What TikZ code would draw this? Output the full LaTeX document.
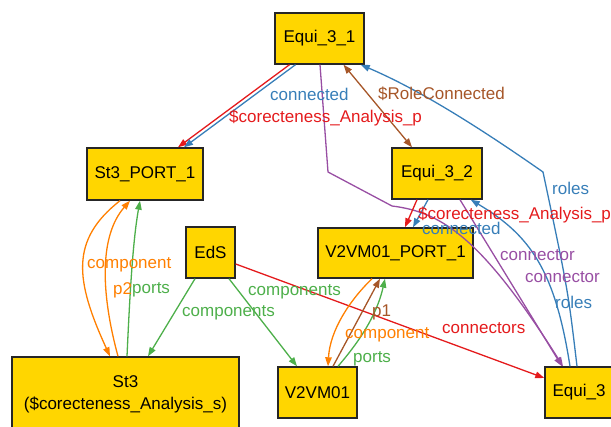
\documentclass[tikz,border=0pt]{standalone}
\usepackage{fontspec}
\setmainfont{Liberation Sans}
\usetikzlibrary{arrows.meta}
\definecolor{gold}{RGB}{255,214,0}
\definecolor{cred}{RGB}{228,26,28}
\definecolor{cblue}{RGB}{55,126,184}
\definecolor{cgreen}{RGB}{77,175,74}
\definecolor{cpurple}{RGB}{152,78,163}
\definecolor{corange}{RGB}{255,127,0}
\definecolor{cbrown}{RGB}{166,86,40}
\begin{document}
\begin{tikzpicture}[x=1pt,y=-1pt,
  box/.style={draw=black!85,fill=gold,line width=1.4pt,inner sep=0pt,
    font=\fontsize{17}{22}\selectfont,align=center},
  lab/.style={inner sep=0pt,font=\fontsize{17}{20}\selectfont},
  labw/.style={lab,anchor=west},
  edge/.style={line width=1.3pt,-{Triangle[length=9pt,width=6.5pt]}},
  bedge/.style={line width=1.3pt,{Triangle[length=9pt,width=6.5pt]}-{Triangle[length=9pt,width=6.5pt]}}]
\useasboundingbox (0,0) rectangle (611,427);
% nodes
\node[box,minimum width=89pt,minimum height=51pt] (e31) at (319.5,38.5) {Equi\_3\_1};
\node[box,minimum width=116pt,minimum height=52pt] (sp1) at (145,174) {St3\_PORT\_1};
\node[box,minimum width=49pt,minimum height=51pt] (eds) at (210.5,252.5) {EdS};
\node[box,minimum width=90pt,minimum height=51pt] (e32) at (437,173.5) {Equi\_3\_2};
\node[box,minimum width=155pt,minimum height=50pt] (vp1) at (395.5,253) {V2VM01\_PORT\_1};
\node[box,minimum width=227pt,minimum height=74pt] (st3) at (125.5,394) {St3\\(\$corecteness\_Analysis\_s)};
\node[box,minimum width=79pt,minimum height=51pt] (v2) at (317.5,392.5) {V2VM01};
\node[box,minimum width=68pt,minimum height=51pt] (e3) at (579,392.5) {Equi\_3};
% edges
\draw[edge,cred] ([xshift=-30pt]e31.south) -- ([xshift=33pt]sp1.north);
\draw[edge,cblue] ([xshift=-24pt]e31.south) -- ([xshift=39pt]sp1.north);
\draw[bedge,cbrown] ([xshift=24pt]e31.south) -- ([xshift=-25pt]e32.north);
\draw[edge,cpurple] ([xshift=0.5pt]e31.south) -- (328,172) -- (392,206)
  .. controls (440,212) and (480,235) .. ([xshift=-16pt]e3.north);
\draw[edge,cblue] ([xshift=-2pt]e3.north) .. controls (568,290) .. (543,172)
  .. controls (480,128) and (420,90) .. ([xshift=-4pt]e31.south east);
\draw[edge,cblue] ([xshift=-9pt]e3.north) .. controls (555,270) and (530,235) .. ([xshift=-12pt]e32.south east);
\draw[edge,cpurple] ([xshift=23pt]e32.south) -- ([xshift=-17pt]e3.north);
\draw[edge,cred] ([xshift=-20pt]e32.south) -- ([xshift=9.5pt]vp1.north);
\draw[edge,cblue] ([xshift=-9pt]e32.south) -- ([xshift=17.5pt]vp1.north);
\draw[edge,cgreen] ([xshift=-15.5pt]eds.south) -- ([xshift=22.5pt]st3.north);
\draw[edge,cgreen] ([xshift=18.5pt]eds.south) -- ([xshift=-20.5pt]v2.north);
\draw[edge,cred] ([yshift=-11.5pt]eds.east) -- ([yshift=14.5pt]e3.west);
\draw[edge,corange] ([xshift=-25pt]sp1.south) .. controls (70,240) and (75,280) .. ([xshift=-15.5pt]st3.north);
\draw[edge,corange] ([xshift=-7.5pt]st3.north) .. controls (100,290) and (100,235) .. ([xshift=-15pt]sp1.south);
\draw[edge,cgreen] ([xshift=1.5pt]st3.north) .. controls (130,290) and (133,240) .. ([xshift=-5pt]sp1.south);
\draw[edge,corange] ([xshift=-23.5pt]vp1.south) .. controls (350,300) and (330,330) .. ([xshift=10.5pt]v2.north);
\draw[edge,cbrown] ([xshift=15.5pt]v2.north) -- ([xshift=-15.5pt]vp1.south);
\draw[edge,cgreen] ([xshift=20.5pt]v2.north) .. controls (365,335) and (378,310) .. ([xshift=-10.5pt]vp1.south);
% labels
\node[labw,text=cblue] (l1) at (270,94) {connected};
\node[labw,text=cred] (l2) at (229,118) {\$corecteness\_Analysis\_p};
\node[labw,text=cbrown] (l3) at (378,94) {\$RoleConnected};
\node[labw,text=cred] (l4) at (418,215) {\$corecteness\_Analysis\_p};
\node[labw,text=cblue] (l5) at (422,228) {connected};
\node[labw,text=cblue] (l6) at (552,188) {roles};
\node[labw,text=cblue] (l7) at (555,302) {roles};
\node[labw,text=cpurple] (l8) at (500,255) {connector};
\node[labw,text=cpurple] (l9) at (525,277) {connector};
\node[labw,text=cgreen] (l10) at (182,313) {components};
\node[labw,text=cgreen] (l11) at (248,292) {components};
\node[labw,text=cred] (l12) at (442,328) {connectors};
\node[labw,text=corange] (l13) at (87,265) {component};
\node[labw,text=corange] (l14) at (113,290) {p2};
\node[labw,text=cgreen] (l15) at (132,290) {ports};
\node[labw,text=cbrown] (l16) at (372,312) {p1};
\node[labw,text=corange] (l17) at (345,335) {component};
\node[labw,text=cgreen] (l18) at (353,359) {ports};
\end{tikzpicture}
\end{document}
